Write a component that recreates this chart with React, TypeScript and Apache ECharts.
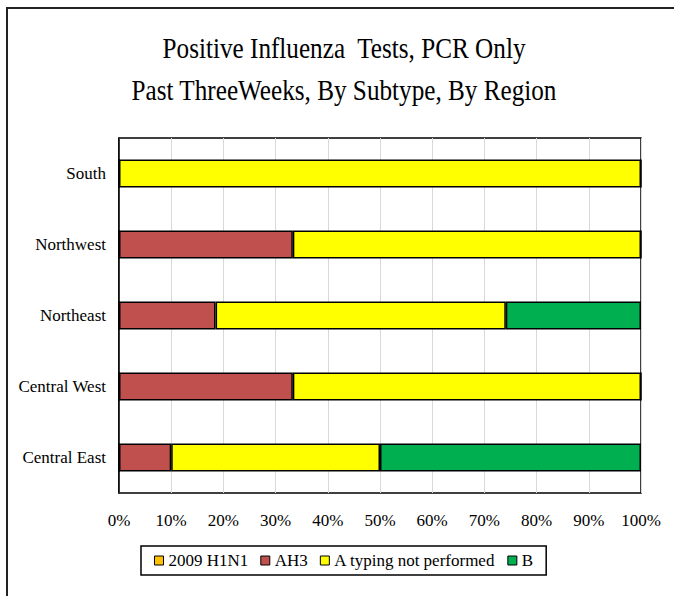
import React, { useEffect, useRef } from "react";
import * as echarts from "echarts";

const regions = ["Central East", "Central West", "Northeast", "Northwest", "South"];
const seriesNames = ["2009 H1N1", "AH3", "A typing not performed", "B"];
const h1n1 = [0, 0, 0, 0, 0];
const ah3 = [10, 33.3, 18.5, 33.3, 0];
const aTyping = [40, 66.7, 55.6, 66.7, 100];
const bValues = [50, 0, 25.9, 0, 0];
const seriesColors = ["#FFC000", "#C0504D", "#FFFF00", "#00B050"];
const titleLines = ["Positive Influenza  Tests, PCR Only", "Past ThreeWeeks, By Subtype, By Region"];

const FONT = "'Liberation Serif', 'Times New Roman', serif";

export default function App() {
  const ref = useRef<HTMLDivElement>(null);
  useEffect(() => {
    if (!ref.current) return;
    const chart = echarts.init(ref.current, null, { renderer: "svg" });
    const data = [h1n1, ah3, aTyping, bValues];
    chart.setOption({
      animation: false,
      backgroundColor: "#fff",
      textStyle: { fontFamily: FONT },
      graphic: [
        {
          type: "rect",
          shape: { x: 7, y: 8, width: 720, height: 700 },
          style: { fill: "none", stroke: "#222", lineWidth: 2 },
          silent: true,
        },
        {
          type: "text",
          x: 344,
          y: 48,
          scaleX: 0.84,
          style: {
            text: titleLines[0],
            fontFamily: FONT,
            fontSize: 30,
            fill: "#000",
            align: "center",
            verticalAlign: "middle",
          },
        },
        {
          type: "text",
          x: 344,
          y: 90,
          scaleX: 0.84,
          style: {
            text: titleLines[1],
            fontFamily: FONT,
            fontSize: 30,
            fill: "#000",
            align: "center",
            verticalAlign: "middle",
          },
        },
      ],
      legend: {
        data: seriesNames,
        left: 141,
        top: 546,
        padding: [6, 13],
        itemGap: 12,
        itemWidth: 9,
        itemHeight: 9,
        icon: "rect",
        borderColor: "#000",
        borderWidth: 1.5,
        itemStyle: { borderColor: "#000", borderWidth: 1 },
        textStyle: { fontFamily: FONT, fontSize: 17, color: "#000" },
      },
      grid: {
        left: 119,
        right: 33,
        top: 138,
        bottom: 103,
        show: true,
        borderColor: "#000",
        borderWidth: 1.5,
        containLabel: false,
      },
      xAxis: {
        type: "value",
        min: 0,
        max: 100,
        interval: 10,
        axisLine: { show: false },
        axisTick: { show: false },
        splitLine: { show: true, lineStyle: { color: "#d9d9d9", width: 1 } },
        axisLabel: {
          formatter: "{value}%",
          fontFamily: FONT,
          fontSize: 17,
          color: "#000",
          margin: 19,
        },
      },
      yAxis: {
        type: "category",
        data: regions,
        axisLine: { show: true, lineStyle: { color: "#000", width: 1.5 } },
        axisTick: { show: false },
        splitLine: { show: false },
        axisLabel: { fontFamily: FONT, fontSize: 17, color: "#000", margin: 13 },
      },
      series: seriesNames.map((name, i) => ({
        name,
        type: "bar",
        stack: "total",
        barWidth: 28,
        data: data[i],
        itemStyle: { color: seriesColors[i], borderColor: "#000", borderWidth: 1.5 },
      })),
    });
    return () => chart.dispose();
  }, []);
  return (
    <div
      ref={ref}
      style={{ position: "fixed", left: 0, top: 0, width: 674, height: 596 }}
    />
  );
}
